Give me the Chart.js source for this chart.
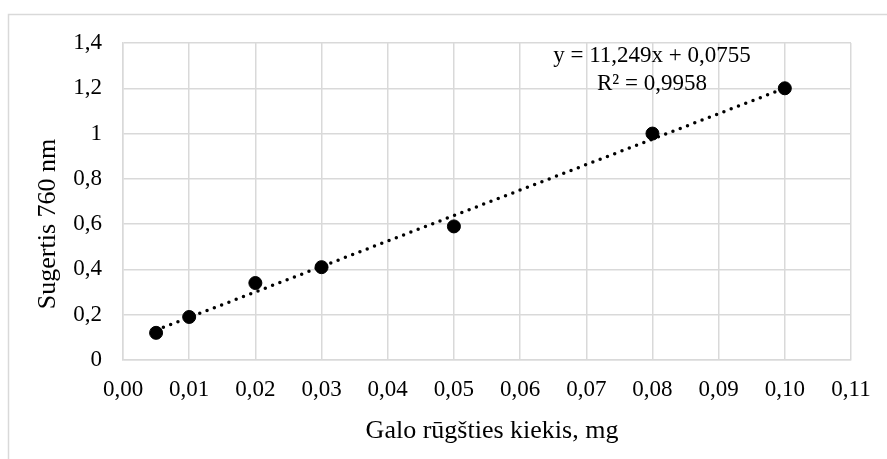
<!DOCTYPE html>
<html>
<head>
<meta charset="utf-8">
<script src="https://cdn.jsdelivr.net/npm/chart.js@4"></script>
<style>
  html, body { margin: 0; padding: 0; background: #fff; }
  #wrap { width: 887px; height: 459px; }
</style>
</head>
<body>
<div id="wrap"><canvas id="chart" width="887" height="459"></canvas></div>
<script>
// calibration points: amount of gallic acid (mg) vs absorbance at 760 nm
var amounts = [0.005, 0.01, 0.02, 0.03, 0.05, 0.08, 0.10];
var absorbance = [0.12, 0.19, 0.34, 0.41, 0.59, 1.0, 1.2];
var slope = 11.249;
var intercept = 0.0755;
var rSquared = '0,9958';
var xTitle = 'Galo rūgšties kiekis, mg';
var yTitle = 'Sugertis 760 nm';
var serif = "'Liberation Serif', 'Times New Roman', serif";
var gridColor = '#d9d9d9';

function comma(v, digits) {
  var s = digits == null ? String(Number(v.toFixed(2))) : v.toFixed(digits);
  return s.replace('.', ',');
}

var points = [];
for (var i = 0; i < amounts.length; i++) {
  points.push({x: amounts[i], y: absorbance[i]});
}

var xMin = Math.min.apply(null, amounts);
var xMax = Math.max.apply(null, amounts);
var trend = [
  {x: xMin, y: slope * xMin + intercept},
  {x: xMax, y: slope * xMax + intercept}
];

// outer frame, axis titles and the trendline equation
var extras = {
  id: 'extras',
  beforeDraw: function(chart) {
    var ctx = chart.ctx;
    ctx.save();
    ctx.fillStyle = '#fff';
    ctx.fillRect(0, 0, chart.width, chart.height);
    ctx.strokeStyle = gridColor;
    ctx.lineWidth = 1.5;
    ctx.beginPath();
    ctx.moveTo(chart.width, 14.5);
    ctx.lineTo(8.5, 14.5);
    ctx.lineTo(8.5, chart.height);
    ctx.stroke();
    ctx.restore();
  },
  afterDraw: function(chart) {
    var ctx = chart.ctx;
    var area = chart.chartArea;
    ctx.save();
    ctx.fillStyle = '#000';
    ctx.textAlign = 'center';
    ctx.textBaseline = 'alphabetic';
    ctx.font = '26px ' + serif;
    ctx.fillText(xTitle, 492, 438);
    ctx.save();
    ctx.translate(55, 224);
    ctx.rotate(-Math.PI / 2);
    ctx.fillText(yTitle, 0, 0);
    ctx.restore();
    ctx.font = '23px ' + serif;
    var eq = 'y = ' + comma(slope, 3) + 'x + ' + comma(intercept, 4);
    ctx.fillText(eq, 652, area.top + 19);
    ctx.fillText('R² = ' + rSquared, 652, area.top + 47);
    ctx.restore();
  }
};

new Chart(document.getElementById('chart'), {
  type: 'scatter',
  data: {
    datasets: [
      {
        label: 'Trendline',
        data: trend,
        showLine: true,
        borderColor: '#000',
        borderWidth: 3.5,
        borderDash: [0, 7.8],
        borderCapStyle: 'round',
        pointRadius: 0,
        fill: false
      },
      {
        label: 'Sugertis',
        data: points,
        backgroundColor: '#000',
        borderColor: '#000',
        pointRadius: 6.5,
        pointHoverRadius: 6.5
      }
    ]
  },
  options: {
    responsive: false,
    animation: false,
    layout: {padding: {left: 0, top: 43, right: 36, bottom: 0}},
    plugins: {legend: {display: false}, tooltip: {enabled: false}},
    scales: {
      x: {
        type: 'linear',
        min: 0,
        max: 0.11,
        afterFit: function(scale) { scale.height = 99; },
        ticks: {
          stepSize: 0.01,
          padding: 16,
          color: '#000',
          font: {family: serif, size: 23},
          maxRotation: 0,
          callback: function(v) { return comma(v, 2); }
        },
        grid: {color: gridColor, lineWidth: 1.5, drawTicks: false},
        border: {color: gridColor, width: 1.5}
      },
      y: {
        type: 'linear',
        min: 0,
        max: 1.4,
        afterFit: function(scale) { scale.width = 123; },
        ticks: {
          stepSize: 0.2,
          padding: 21,
          color: '#000',
          font: {family: serif, size: 23},
          callback: function(v) { return comma(v); }
        },
        grid: {color: gridColor, lineWidth: 1.5, drawTicks: false},
        border: {color: gridColor, width: 1.5}
      }
    }
  },
  plugins: [extras]
});
</script>
</body>
</html>
